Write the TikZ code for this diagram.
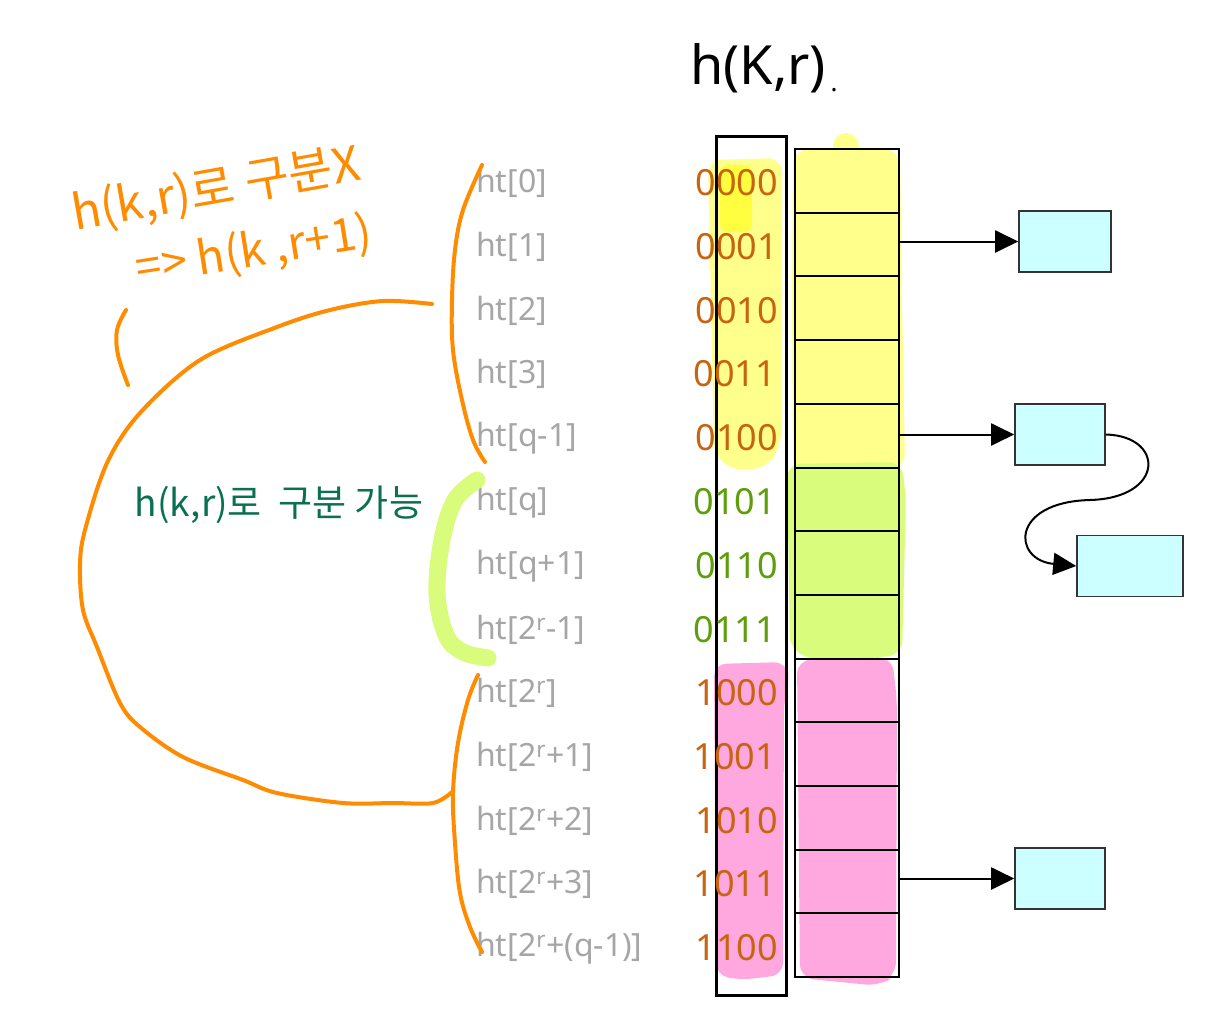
\documentclass[tikz,border=0pt]{standalone}
\usepackage{fontspec}
\setmainfont{Noto Sans}
\newfontfamily\kr{Noto Sans CJK KR}
\usetikzlibrary{arrows.meta}
\definecolor{lblgray}{HTML}{A6A6A6}
\definecolor{numorange}{HTML}{C8640F}
\definecolor{numgreen}{HTML}{5E9E0A}
\definecolor{hlyellow}{HTML}{FFFF8C}
\definecolor{hlyellow2}{HTML}{FFFF40}
\definecolor{hlgreen}{HTML}{D9FC7C}
\definecolor{hlpink}{HTML}{FFA8E0}
\definecolor{nodecyan}{HTML}{CCFFFF}
\definecolor{penorange}{HTML}{FF8C00}
\definecolor{pengreen}{HTML}{0B7052}
\tikzset{
  lbl/.style={anchor=west, inner sep=0pt, text=lblgray, font=\fontsize{32}{32}\selectfont},
  num/.style={anchor=east, inner sep=0pt, font=\fontsize{36}{36}\selectfont},
  cell/.style={draw=black, line width=2pt, minimum width=104pt, minimum height=63.7pt, inner sep=0pt},
  listnode/.style={draw=black!80, line width=1.6pt, fill=nodecyan, minimum height=61pt, inner sep=0pt},
  arr/.style={line width=2pt, -{Triangle[length=23pt,width=22pt]}},
  ostroke/.style={draw=penorange, line width=4pt, line cap=round, line join=round},
}
\begin{document}
\begin{tikzpicture}[x=1pt,y=-1pt]
\useasboundingbox (0,0) rectangle (1215,1022);
\fill[white] (0,0) rectangle (1215,1022);
% highlighter marks
\fill[hlyellow, rounded corners=14pt] (708,160) -- (782,158) -- (782,440) -- (770,466) -- (735,472) -- (714,455) -- cycle;
\fill[hlyellow2, rounded corners=8pt] (720,165) rectangle (752,232);
\fill[hlyellow] (846,146) circle[radius=13pt];
\fill[hlyellow, rounded corners=14pt] (793,150) -- (900,150) -- (902,300) -- (905,468) -- (793,470) -- (792,300) -- cycle;
\fill[hlgreen, rounded corners=14pt] (787,464) -- (902,462) -- (906,500) -- (902,655) -- (820,662) -- (790,650) -- cycle;
\fill[hlpink, rounded corners=12pt] (714,664) -- (786,662) -- (790,680) -- (784,700) -- (783,975) -- (740,980) -- (716,975) -- cycle;
\fill[hlpink, rounded corners=14pt] (797,660) -- (892,657) -- (897,700) -- (896,975) -- (880,986) -- (800,978) -- cycle;
% index column
\node[draw=black, line width=3pt, minimum width=70pt, minimum height=858pt, inner sep=0pt] (idx) at (751,566) {};
% bucket cells
\foreach \i in {1,...,13}{
  \node[cell] (b\i) at (847,{149+63.7*(\i-0.5)}) {};
}
% labels
\node[lbl] (l1) at (476,183) {ht[0]};
\node[lbl] (l2) at (476,247) {ht[1]};
\node[lbl] (l3) at (476,311) {ht[2]};
\node[lbl] (l4) at (476,374) {ht[3]};
\node[lbl] (l5) at (476,438) {ht[q-1]};
\node[lbl] (l6) at (476,502) {ht[q]};
\node[lbl] (l7) at (476,566) {ht[q+1]};
\node[lbl] (l8) at (476,630) {ht[2\textsuperscript{r}-1]};
\node[lbl] (l9) at (476,693) {ht[2\textsuperscript{r}]};
\node[lbl] (l10) at (476,757) {ht[2\textsuperscript{r}+1]};
\node[lbl] (l11) at (476,821) {ht[2\textsuperscript{r}+2]};
\node[lbl] (l12) at (476,884) {ht[2\textsuperscript{r}+3]};
\node[lbl] (l13) at (476,948) {ht[2\textsuperscript{r}+(q-1)]};
% codes
\node[num, text=numorange] (c1) at (778,183) {0000};
\node[num, text=numorange] (c2) at (778,247) {0001};
\node[num, text=numorange] (c3) at (778,311) {0010};
\node[num, text=numorange] (c4) at (776,374) {0011};
\node[num, text=numorange] (c5) at (778,438) {0100};
\node[num, text=numgreen] (c6) at (776,502) {0101};
\node[num, text=numgreen] (c7) at (778,566) {0110};
\node[num, text=numgreen] (c8) at (776,630) {0111};
\node[num, text=numorange] (c9) at (778,693) {1000};
\node[num, text=numorange] (c10) at (776,757) {1001};
\node[num, text=numorange] (c11) at (778,821) {1010};
\node[num, text=numorange] (c12) at (776,884) {1011};
\node[num, text=numorange] (c13) at (778,948) {1100};
% chain nodes
\node[listnode, minimum width=92pt] (n1) at (1065,241.5) {};
\node[listnode, minimum width=90pt] (n2) at (1060,434.5) {};
\node[listnode, minimum width=106pt] (n3) at (1130,566) {};
\node[listnode, minimum width=90pt] (n4) at (1060,878.5) {};
\draw[arr] (n1.west -| b2.east) -- (n1.west);
\draw[arr] (n2.west -| b5.east) -- (n2.west);
\draw[arr] (n4.west -| b12.east) -- (n4.west);
\coordinate (mid) at (1090,500);
\draw[arr] (n2.east) .. controls (1165,436) and (1165,498) .. (mid) .. controls (1010,502) and (1012,560) .. (n3.west);
% title
\node[inner sep=0pt, font=\fontsize{54}{54}\selectfont] (title) at (758,68) {h(K,r)};
\node[inner sep=0pt, font=\fontsize{26}{26}\selectfont] (dot) at (834,90) {.};
% orange pen strokes
\draw[ostroke] plot[smooth, tension=0.6] coordinates {(482,165) (463,210) (455,250) (452,300) (453,350) (462,400) (473,440) (485,462)};
\draw[ostroke] plot[smooth, tension=0.6] coordinates {(478,675) (468,700) (458,743) (453,793) (455,843) (460,893) (470,927) (482,952)};
\draw[ostroke] plot[smooth, tension=0.55] coordinates {(432,304) (383,301) (330,310) (277,327) (200,360) (140,413) (107,463) (85,530) (80,565) (83,610) (97,647) (120,703) (140,727) (183,757) (243,780) (277,793) (343,803) (393,803) (433,803) (452,792)};
\draw[ostroke] plot[smooth, tension=0.6] coordinates {(126,310) (117,330) (118,355) (128,385)};
% green pen bracket
\draw[draw=hlgreen, line width=17pt, line cap=round, line join=round] plot[smooth, tension=0.6] coordinates {(477,480) (455,500) (442,540) (437,593) (446,635) (463,652) (488,658)};
% handwritten notes
\node[inner sep=0pt, text=penorange, rotate=10, font=\kr\fontsize{48}{48}\selectfont] (note1) at (216,190) {h(k,r)로 구분X};
\node[inner sep=0pt, text=penorange, rotate=9, font=\kr\fontsize{46}{46}\selectfont] (note2) at (254,252) {=> h(k ,r+1)};
\node[inner sep=0pt, text=pengreen, font=\kr\fontsize{37}{37}\selectfont] (note3) at (279,505) {h(k,r)로\ \ 구분 가능};
\end{tikzpicture}
\end{document}
